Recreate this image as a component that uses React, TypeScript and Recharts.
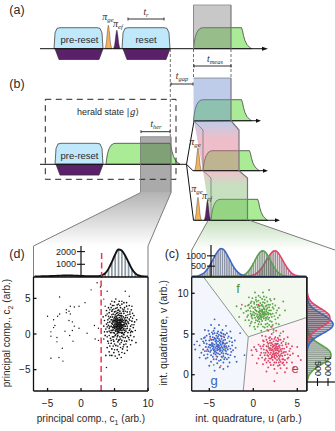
import React from 'react';
import { Area, Bar, ComposedChart, Line, Scatter, XAxis, YAxis } from 'recharts';

type Pair = [number, number];
type Row = [number, number, number];

// ---- panel (d) values
const heraldStray: Pair[] = [
  [-3.2,5.2],[-5,2.5],[-4.1,2],[-3.2,2.8],[-3.5,2.5],[-2.2,3.4],[-1.6,3.9],[-1,3.8],[-.3,3.9],[.6,4.4],[1.5,6.2],[2.4,7.2],
  [-1.8,3.2],[-2.2,3],[-1.6,2.8],[-1.8,1.9],[-1.3,1.7],[-3.9,1.2],[-4.1,.9],[-2.4,.4],[-1,1.1],[-.3,.8],[-1.3,.5],[-1.7,-.2],
  [-4.5,.3],[-4.5,-.3],[-3.6,-.5],[-3.6,-1.1],[-2.8,-2],[-1.2,-1],[.9,.1],[-4.5,-3.4],[-3.3,-3.3],[-2.7,-3.8],[2,1.2],[2.6,.8],
  [2.1,-.7],[2.6,-.9],[3.4,4.9],[3.9,6],[6.6,6],[7.2,5.3],[3.8,-4.7],[2.9,6.6],[3.6,3.9],
];
const heraldMain: Pair[] = [
  [5.7,1.3],[5.4,1.8],[6.1,.9],[5.2,.7],[6.4,1.6],[5.9,2.1],[5,1.4],[5.6,.4],[6.2,.2],[5.3,2.4],[6.6,1.1],[4.8,1.9],[5.8,1.7],[5.5,1],[6,1.4],
  [5.1,1.1],[6.3,2.4],[4.7,.9],[5.6,2.7],[6.8,1.9],[5.9,.6],[5.2,1.9],[6.5,.5],[4.9,.2],[5.4,.1],[6.1,1.9],[5.7,2.3],[5.3,1.4],[5.8,.9],[6.2,1.2],
  [4.6,1.5],[5,2.3],[6.9,.8],[7.1,1.5],[5.5,3],[6,2.9],[5.1,-.2],[5.8,-.4],[6.4,-.1],[4.5,.5],[4.3,1.7],[4.4,2.4],[6.7,2.6],[7.2,2.1],[5,3.1],
  [6.3,3.2],[5.6,3.4],[4.8,2.8],[7,.2],[6.6,-.5],[5.3,-.7],[4.7,-.4],[4.2,.8],[4.1,1.2],[4,2],[7.4,1.1],[7.5,.4],[7.3,2.8],[6.9,3.1],[5.9,3.7],
  [5.2,3.6],[4.6,3.2],[4.2,3],[6.5,3.7],[7.6,1.8],[7.8,.9],[6.1,-.9],[5.5,-1.1],[4.9,-1],[4.4,-.6],[3.9,.3],[3.8,1.4],[3.7,2.6],[7.1,-.5],[6.8,-1],
  [5.8,-1.4],[5.2,-1.6],[4.5,-1.3],[6.4,-1.5],[7.4,-.2],[8,1.7],[7.9,2.6],[7.5,3.4],[6.8,3.9],[6.1,4.2],[5.4,4.1],[4.7,4],[4.1,3.7],[3.8,3.3],[5,4.5],
  [6.4,4.4],[5.7,4.6],[7.2,4],[3.7,.7],[3.6,-.2],[4,-1],[3.9,-1.9],[4.6,-2.1],[5.4,-2.2],[6.2,-2.1],[6.9,-1.8],[7.6,-.9],[8.2,-1.2],[4.9,-2.6],[5.7,-2.9],
  [4.2,-2.5],[3.7,-3],[5.4,-3.4],[6.5,-2.7],[4.6,-3],[5.5,1.6],[5.9,1.1],[5.3,.9],[6.1,.5],[5.7,.8],[5.1,1.7],[6.4,.8],[5.5,2.1],[6,2.4],[4.9,1.2],
  [5.8,1.5],[5.6,1.1],[6.2,1.7],[5.4,1.3],[5.9,1.9],[5.2,.4],[6,.2],[4.7,1.4],[5.5,.6],[6.6,1.9],[5,.8],[6.3,1.3],[5.7,2],[5.3,1.1],[6.1,1.3],
  [5.6,1.6],[5.8,.5],[5.4,2.2],[4.9,1.7],[6.5,1.4],[5.2,1.3],[6,.8],[5.6,.2],[5.9,2.6],[5.1,2.1],[6.2,2.1],[4.8,.6],[6.7,.4],[5.5,-.2],[6.1,-.3],
  [6.8,1.4],[4.5,1.1],[4.4,.2],[4.9,-.4],[5.7,-.8],[6.4,2.9],[5.3,2.9],[4.7,2.4],[7,1.7],[7.3,.7],[6.6,2.3],[5.8,3.2],[5.1,2.7],[4.5,2],[6.9,2.3],
  [5.5,.3],[5.3,1.7],[5.9,1.4],[6.3,.6],[5.7,1.9],[5.4,.7],[6,1.7],[5.6,1.4],[5.2,1],[5.8,1.2],[6.1,1],[5.5,1.2],[5.9,.8],[5.4,1.5],[5.7,1],
];
const heraldOuter: Pair[] = [
  [4.3,3.4],[4.5,3.7],[4.9,3.5],[5.4,3.7],[5.8,4],[6.2,3.5],[6.6,3.2],[7,3.5],[7.3,3.1],[7.7,2.2],[7.4,2.4],[7,2.7],[6.4,3.4],[5.5,3.3],[4.7,3.4],
  [4.1,2.5],[3.9,2.8],[4.2,2.2],[4.6,2.7],[4,1.6],[3.9,1],[4.2,.4],[4.3,1],[4.6,.2],[4.2,-.2],[3.9,-.4],[4.5,-.9],[4.8,-.8],[5,-1.4],[5.4,-.4],
  [5.6,-.9],[5.9,-.7],[6,-1.2],[6.3,-.5],[6.5,-1],[6.9,-.3],[7.2,-.8],[7.4,.2],[7.2,.5],[7.7,.3],[7.6,1.3],[7.3,1.9],[7.9,1.3],[8.1,.5],[7.7,2.9],
  [4.8,-1.7],[5.5,-1.7],[5.9,-1.9],[6.3,-1.8],[6.7,-1.4],[4.3,-1.7],[4.1,-1.3],[3.5,.3],[3.4,1.1],[3.5,1.9],[3.4,-.7],[3.3,2.4],[4.4,4.2],[4.9,4],[5.6,4.2],
  [6.1,4.6],[6.8,4.4],[7.6,3.9],[5.2,4.9],[4.6,4.6],[5,-2.2],[5.6,-2.5],[6.1,-2.6],[5.1,-3.1],[6,-3.3],[4.3,-3],[6.9,-2.3],[7.4,-1.5],[7.9,-.4],[8.3,2],
  [5,.1],[5.2,-.1],[4.7,.5],[5.1,.5],[5.4,.4],[5.6,.7],[5.8,.2],[6.3,0],[6.5,.2],[6.1,.1],[6.7,.7],[6.9,1.1],[6.4,1.1],[6.7,1.5],[6.6,1.7],
  [4.8,1],[5,1.9],[4.6,2],[4.7,1.7],[4.9,2.1],[5.2,2.2],[5.1,2.5],[5.4,2.6],[5.7,2.6],[6,2.1],[6.3,1.9],[6.5,2.1],[6.1,2.6],[5.8,2.9],[5.2,3.2],
  [5.5,1.9],[5.3,2],[5.7,1.6],[5.6,1.9],[5.9,1.6],[6,1.2],[6.2,.9],[5.8,.7],[5.5,.8],[5.3,.6],[5,1],[4.9,.9],[5.2,1.5],[5.4,1.1],[6.4,1.3],
];
const heraldCurve: Pair[] = [
  [-7,50],[-6.5,50],[-6,55],[-5.5,60],[-5,70],[-4.5,80],[-4,90],[-3.5,100],[-3,110],[-2.5,120],[-2,125],[-1.5,120],[-1,110],[-.5,95],[0,85],
  [.5,70],[1,60],[1.5,55],[2,55],[2.5,70],[3,130],[3.5,270],[4,620],[4.5,1150],[5,1750],[5.5,2170],[6,2080],[6.5,1700],[7,1180],[7.5,650],[8,300],[8.5,120],[9,60],[9.5,40],[10,30],
];
const thresholdC1 = 3;

// ---- panel (c) values
const gTrace: Pair[] = [
  [-4,3.7],[-4.3,4.1],[-3.7,3.3],[-4.5,3.4],[-3.5,4],[-4.1,3],[-3.9,4.4],[-4.7,3.9],[-3.3,3.6],[-4.4,2.8],[-3.6,2.7],[-4.8,3],[-3.2,4.3],[-4.2,4.8],[-3.7,4.8],
  [-5,4.2],[-5.1,3.4],[-2.9,3.1],[-3,3.9],[-4.6,4.6],[-3.4,2.3],[-4.1,2.2],[-4.8,2.4],[-5.3,3.8],[-2.7,4.1],[-2.9,2.5],[-3.4,5],[-4,5.3],[-4.7,5.2],[-5.3,4.8],
  [-5.6,3.9],[-5.7,3.1],[-5.2,2.5],[-4.5,1.9],[-3.7,1.8],[-3,1.9],[-2.5,2.8],[-2.4,3.6],[-2.5,4.5],[-3,5.1],[-3.5,5.5],[-4.4,5.7],[-5.1,5.4],[-5.9,4.4],[-6.1,3.6],
  [-5.9,2.7],[-5.4,2],[-4.8,1.6],[-4.1,1.4],[-3.4,1.5],[-2.7,1.5],[-2.1,2.2],[-2,3.3],[-2.1,4.2],[-2.6,5.3],[-3.9,6.1],[-4.8,6.1],[-5.5,5.5],[-6.4,4.1],[-6.6,3.1],
  [-6.1,2.1],[-5,1.1],[-3.8,.9],[-2.9,1],[-1.9,1.6],[-4.4,6.8],[-3.1,6],[-6.7,3.7],[-4.4,.5],[-3.4,.7],[-4.2,3.5],[-3.8,3.9],[-4.4,3.7],[-3.6,3.5],[-4,4.1],
  [-4.1,3.2],[-3.9,3.4],[-4.5,4.3],[-3.4,3.1],[-3.8,2.9],[-4.6,3.2],[-3.2,3],[-4.9,3.6],[-3.3,4.6],[-3.9,4.9],[-4.4,5.1],[-4.9,4.7],[-5.2,3.1],[-4.3,2.5],[-3.6,2.2],
  [-3.1,2.6],[-2.8,3.5],[-5.4,4.2],[-3.7,3.7],[-4.2,3.9],[-4,3.4],[-3.5,3.8],[-4.4,3.1],[-4.6,3.8],[-3.8,4.2],[-3.3,3.4],[-4.1,4.5],[-4.7,3.5],[-3.6,4.4],[-4.3,2.9],
  [-3.9,3.1],[-3.4,4.2],[-4.8,4.3],[-5,3.7],[-3.1,3.5],[-4,2.6],[-3.5,2.9],[-4.5,2.6],[-5.1,2.9],[-2.6,3.2],[-3.7,5.2],[-4.3,4.4],[-4.6,5],[-3.2,2.1],[-5.6,4.5],
  [-4.9,2.8],[-5.2,2.1],[-4.6,2.2],[-4.2,1.9],[-3.9,1.7],[-3.3,1.9],[-2.8,2.1],[-2.6,2.4],[-2.3,3],[-2.4,4],[-2.8,4.7],[-3.2,4.9],[-3.6,5.1],[-4.1,5.1],[-4.5,5.4],
  [-5,5],[-5.5,4.6],[-5.7,4.1],[-5.4,3.4],[-5.5,2.9],[-5.6,2.4],[-4.1,3.7],[-3.9,3.6],[-3.7,4.1],[-4.2,4.2],[-4.4,4.5],[-4.7,4.3],[-4.9,3.3],[-4.5,3],[-4.2,2.7],
  [-3.8,2.5],[-3.4,2.6],[-3.1,2.9],[-3,3.3],[-3.2,3.8],[-3.4,3.9],[-3.6,4.7],[-4,4.7],[-3.8,3.2],[-4.3,3.3],[-4.1,3.5],[-3.7,3],[-3.5,3.3],[-4.6,3.6],[-4.8,3.7],
];
const fTrace: Pair[] = [
  [1,7.7],[.7,8.1],[1.3,7.3],[.5,7.4],[1.5,8],[.9,7],[1.1,8.4],[.3,7.9],[1.7,7.6],[.6,6.8],[1.4,6.7],[.2,7],[1.8,8.3],[.8,8.8],[1.3,8.8],
  [0,8.2],[-.1,7.4],[2.1,7.1],[2,7.9],[.4,8.6],[1.6,6.3],[.9,6.2],[.2,6.4],[-.3,7.8],[2.3,8.1],[2.1,6.5],[1.6,9],[1,9.3],[.3,9.2],[-.3,8.8],
  [-.6,7.9],[-.7,7.1],[-.2,6.5],[.5,5.9],[1.3,5.8],[2,5.9],[2.5,6.8],[2.6,7.6],[2.5,8.5],[2,9.1],[1.5,9.5],[.6,9.7],[-.1,9.4],[-.9,8.4],[-1.1,7.6],
  [-.9,6.7],[-.4,6],[.2,5.6],[.9,5.4],[1.6,5.5],[2.3,5.5],[2.9,6.2],[3,7.3],[2.9,8.2],[2.4,9.3],[1.1,10.1],[.2,10.1],[-.5,9.5],[-1.4,8.1],[-1.6,7.1],
  [-1.9,8.4],[3.6,7.9],[3.4,9],[1.8,10.4],[1.1,7.5],[.8,7.9],[1.2,8.1],[.6,7.7],[1.4,7.5],[1,8],[.9,7.2],[1.1,7.4],[.5,8.3],[1.6,7.1],[1.2,6.9],
  [.4,7.2],[1.8,7],[.1,7.6],[1.7,8.6],[1.1,8.9],[.6,9.1],[.1,8.7],[-.2,7.1],[.7,6.5],[1.4,6.2],[1.9,6.6],[2.2,7.5],[-.4,8.2],[1.3,7.7],[.8,7.5],
  [1,7.4],[1.5,7.8],[.6,7.1],[.4,7.8],[1.2,8.2],[1.7,7.4],[.9,8.5],[.3,7.5],[1.4,8.4],[.7,6.9],[1.1,7.1],[1.6,8.2],[.2,8.3],[0,7.7],[1.9,7.5],
  [1,6.6],[1.5,6.9],[.5,6.6],[-.1,6.9],[2.4,7.2],[1.3,9.2],[.7,8.4],[.4,9],[1.8,6.1],[-.6,8.5],[.8,7.3],[1.2,7.6],[.9,7.8],[.7,7.6],[1.3,8],
  [-.3,6.3],[.1,5.9],[.6,6.2],[1.1,5.9],[1.6,5.9],[2.2,6.1],[2.6,6.3],[2.8,7],[2.7,7.9],[2.2,8.7],[1.9,9.3],[1.2,9.6],[.8,9.5],[.3,9.5],[-.2,9],
  [-.5,8.6],[-.8,7.8],[-.6,7.3],[-.5,6.7],[.1,7.3],[.3,6.7],[.7,7.3],[1.2,7.2],[1.5,7.4],[1.8,7.9],[1.5,8.5],[1,8.6],[.6,8.5],[.2,8],[1.4,7],
  [.9,6.8],[.5,7],[1.7,6.8],[2,7.4],[2.2,8.3],[1.9,8.6],[.1,8.9],[-.2,8.4],[-.3,7.5],[.7,7.8],[1,7.9],[1.1,7.7],[1.3,7.5],[.8,7.1],[1.6,7.6],
];
const eTrace: Pair[] = [
  [2.5,3],[2.2,3.4],[2.8,2.6],[2,2.7],[3,3.3],[2.4,2.3],[2.6,3.7],[1.8,3.2],[3.2,2.9],[2.1,2.1],[2.9,2],[1.7,2.3],[3.3,3.6],[2.3,4.1],[2.8,4.1],
  [1.5,3.5],[1.4,2.7],[3.6,2.4],[3.5,3.2],[1.9,3.9],[3.1,1.6],[2.4,1.5],[1.7,1.7],[1.2,3.1],[3.8,3.4],[3.6,1.8],[3.1,4.3],[2.5,4.6],[1.8,4.5],[1.2,4.1],
  [.9,3.2],[.8,2.4],[1.3,1.8],[2,1.2],[2.8,1.1],[3.5,1.2],[4,2.1],[4.1,2.9],[4,3.8],[3.5,4.4],[3,4.8],[2.1,5],[1.4,4.7],[.6,3.7],[.4,2.9],
  [.6,2],[1.1,1.3],[1.7,.9],[2.4,.7],[3.1,.8],[3.8,.8],[4.4,1.5],[4.5,2.6],[4.4,3.5],[3.9,4.6],[2.6,5.4],[1.7,5.4],[1,4.8],[.1,3.4],[-.1,2.4],
  [.4,1.4],[1.5,.4],[2.7,.2],[3.6,.3],[4.6,.9],[2.1,5.9],[3.4,5.3],[-.2,3],[2.4,-.8],[5.1,2.3],[5,3.4],[5.4,1.8],[2.6,3.2],[2.3,2.9],[2.7,3.4],
  [2.1,3],[2.9,2.8],[2.5,3.3],[2.4,2.5],[2.6,2.7],[2,3.6],[3.1,2.4],[2.7,2.2],[1.9,2.5],[3.3,2.3],[1.6,2.9],[3.2,3.9],[2.6,4.2],[2.1,4.4],[1.6,4],
  [1.3,2.4],[2.2,1.8],[2.9,1.5],[3.4,1.9],[3.7,2.8],[1.1,3.5],[2.8,3],[2.3,2.8],[2.5,2.6],[3,2.9],[2.1,2.3],[1.9,3],[2.7,3.8],[2.4,3.6],[2.9,3.5],
  [2.2,2.5],[2.6,2.4],[3.1,3.1],[1.7,2.7],[1.5,3],[3.4,2.7],[2.5,2],[3,1.8],[2,2],[1.4,2],[3.9,2.5],[2.8,4.5],[2.2,3.7],[1.9,4.2],[3.3,1.4],[1.1,4.2],
  [.9,2.7],[1,2.1],[1.5,1.5],[1.9,1.5],[2.3,1.2],[2.6,1.5],[3,1.2],[3.4,1.5],[3.8,1.5],[3.9,2],[4.2,2.4],[4.2,3.2],[3.7,3.7],[3.4,4.1],[2.9,4.3],
  [2.4,4.4],[1.9,4.6],[1.5,4.3],[1.2,3.7],[.8,3.5],[1.7,3.5],[1.9,3.3],[2.2,3.1],[2.4,3.2],[2.7,3],[2.8,3.2],[3,3.6],[3.3,3.2],[3.5,2.8],[3.2,2.6],
  [2.9,2.4],[2.4,2.1],[2.2,2.2],[1.8,2],[1.6,2.4],[2,3.2],[2.3,3.5],[2.6,3.5],[2.5,3.8],[2.1,3.9],[1.7,3.8],[3,2.2],[3.3,1.9],[2.7,1.8],[2.3,2.6],
];
const strayRed: Pair[] = [[-4.9,4.5],[-3.4,4.7],[-4.2,2.3],[-3.1,3.4],[-5.3,2.9],[-3.7,1.1],[-.2,7.3],[.6,8.6],[-1.3,8.6]];
const strayGreen: Pair[] = [[-3.2,3.2],[-2.9,4.5],[-4.5,1.2],[-3.5,2.1],[2.3,5.2],[3.1,5.1],[1.2,2.7],[3.7,3.9],[1.7,3.4]];
const strayBlue: Pair[] = [[-1.5,5.1],[.3,3.1],[2.8,3.8],[-1,2.4]];

const uBlue: Pair[] = [
  [-7,0],[-6.75,5],[-6.5,15],[-6.25,40],[-6,80],[-5.75,140],[-5.5,230],[-5.25,360],[-5,520],[-4.75,710],[-4.5,910],[-4.25,1100],[-4,1260],[-3.75,1350],
  [-3.5,1330],[-3.25,1220],[-3,1050],[-2.75,850],[-2.5,640],[-2.25,450],[-2,300],[-1.75,190],[-1.5,110],[-1.25,60],[-1,30],[-.75,15],[-.5,5],[0,0],[6,0],
];
const uGreen: Pair[] = [
  [-7,0],[-2,5],[-1.75,10],[-1.5,25],[-1.25,55],[-1,100],[-.75,180],[-.5,300],[-.25,460],[0,650],[.25,850],[.5,1040],[.75,1180],[1,1240],[1.25,1210],[1.5,1090],
  [1.75,910],[2,710],[2.25,510],[2.5,340],[2.75,210],[3,120],[3.25,65],[3.5,30],[3.75,15],[4,5],[4.5,0],[6,0],
];
const uRed: Pair[] = [
  [-7,0],[-1,5],[-.75,10],[-.5,25],[-.25,45],[0,80],[.25,130],[.5,210],[.75,320],[1,460],[1.25,630],[1.5,810],[1.75,980],[2,1130],[2.25,1230],[2.5,1240],[2.75,1160],
  [3,1010],[3.25,830],[3.5,640],[3.75,460],[4,310],[4.25,190],[4.5,110],[4.75,60],[5,30],[5.25,15],[5.5,5],[6,0],
];
const vBlue: Pair[] = [
  [-2,0],[.25,5],[.5,15],[.75,30],[1,55],[1.25,95],[1.5,160],[1.75,250],[2,370],[2.25,510],[2.5,670],[2.75,830],[3,980],[3.25,1100],[3.5,1190],[3.75,1240],[4,1230],
  [4.25,1160],[4.5,1040],[4.75,880],[5,700],[5.25,530],[5.5,380],[5.75,260],[6,170],[6.25,100],[6.5,60],[6.75,30],[7,15],[7.25,5],[12,0],
];
const vRed: Pair[] = [
  [-2,0],[-.5,5],[-.25,10],[0,20],[.25,40],[.5,70],[.75,120],[1,190],[1.25,290],[1.5,420],[1.75,570],[2,730],[2.25,880],[2.5,1000],[2.75,1070],[3,1090],[3.25,1090],
  [3.5,1030],[3.75,920],[4,780],[4.25,620],[4.5,470],[4.75,340],[5,230],[5.25,150],[5.5,90],[5.75,50],[6,25],[6.25,10],[6.5,5],[12,0],
];
const vGreen: Pair[] = [
  [-2,0],[3.75,5],[4,10],[4.25,20],[4.5,40],[4.75,65],[5,100],[5.25,160],[5.5,240],[5.75,340],[6,470],[6.25,620],[6.5,770],[6.75,920],[7,1040],[7.25,1110],[7.5,1140],[7.75,1140],
  [8,1080],[8.25,970],[8.5,830],[8.75,680],[9,530],[9.25,390],[9.5,270],[9.75,180],[10,110],[10.25,65],[10.5,35],[10.75,15],[11,5],[12,0],
];
const gRegion: Row[] = [[-7,-2,12],[-5.66,-2,12],[-1.14,-2,5.47],[-.57,4.65,4.65]];
const fRegion: Row[] = [[-5.66,12,12],[-.57,4.65,12],[6,7,12]];
const eRegion: Row[] = [[-1.14,-2,-2],[-.57,-2,4.65],[6,-2,7]];
const voronoiEdges: Pair[][] = [[[-5.66,12],[-.57,4.65]],[[-1.14,-2],[-.57,4.65]],[[-.57,4.65],[6,7]]];

// ---- pulse sequence, in drawing units of the schematic
const riseShape: Pair[] = [[0,0],[.7,6],[1.6,11],[3,15.5],[5,19],[7.5,20.7],[10,21]];
const fallShape: Pair[] = [[0,21],[1,18],[2,13],[3.5,8],[5.5,4],[8,1.5],[10,0]];
const narrowShape: Pair[] = [[-3.5,0],[-2,.28],[-1,.72],[0,1],[1,.72],[2,.28],[3.5,0]];

const trapezoid = (x0: number, x1: number, base: number, top: number): Row[] => [
  [x0, base, base], [x0 + 1, base, base + (top - base) * .75], [x0 + 3, base, top - (top - base) * .03], [x0 + 6, base, top],
  [x1 - 6, base, top], [x1 - 3, base, top - (top - base) * .03], [x1 - 1, base, base + (top - base) * .75], [x1, base, base],
];
const flat = (x0: number, x1: number, base: number, depth: number): Row[] => [
  [x0, base, base], [x0 + 4, base, base + depth], [x1 - 4, base, base + depth], [x1, base, base],
];
const greenPulse = (x0: number, fallAt: number, base: number, h = 21): Row[] => [
  ...riseShape.map(([t, a]): Row => [x0 + t, base, base - a * h / 21]),
  ...fallShape.map(([t, a]): Row => [fallAt + t, base, base - a * h / 21]),
];
const narrow = (c: number, base: number, h: number): Row[] => narrowShape.map(([t, a]): Row => [c + t, base, base - a * h]);

const S = '#2b2b2b';
const BLUE = '#bfe8fa', PURPLE = '#5a2069', ORANGE = '#f5b25e', GREEN = '#a9ec95';

type Shape = { rows: Row[]; fill: string; stroke?: string; op?: number; curve?: 'linear' | 'monotone'; sw?: number };
type Seg = { pts: Pair[]; stroke?: string; w?: number; dash?: string };

const shapes: Shape[] = [
  // funnels to the data panels
  { rows: [[33.5,246,246],[140.5,192.7,246],[148,192.7,246],[171,192.7,192.7]], fill: 'url(#fadeGrey)' },
  { rows: [[191.7,250,250],[208,220.5,250],[250,220.5,250],[335,250,250]], fill: 'url(#fadeGreen)' },
  // (a)
  { rows: trapezoid(54, 103, 48.7, 27.7), fill: BLUE, stroke: S },
  { rows: flat(55, 103, 48.7, 10.8), fill: PURPLE, stroke: S },
  { rows: narrow(108.4, 48.7, 23.5), fill: ORANGE, curve: 'monotone', stroke: S, sw: .4 },
  { rows: narrow(116.8, 48.7, 18.7), fill: PURPLE, curve: 'monotone', stroke: S, sw: .4 },
  { rows: trapezoid(122, 170, 48.7, 27.7), fill: BLUE, stroke: S },
  { rows: flat(123, 170, 48.7, 10.8), fill: PURPLE, stroke: S },
  { rows: greenPulse(193.5, 241.5, 48.7), fill: GREEN, stroke: S },
  { rows: [[193.5,5,48.7],[231,5,48.7]], fill: '#808080', op: .43 },
  // (b)
  { rows: trapezoid(55, 103, 164.3, 143.3), fill: BLUE, stroke: S },
  { rows: flat(56, 103, 164.3, 10.8), fill: PURPLE, stroke: S },
  { rows: greenPulse(106, 170, 164.3), fill: GREEN, stroke: S },
  { rows: greenPulse(193.5, 241.5, 120.7), fill: GREEN, stroke: S },
  { rows: narrow(198, 170.7, 23), fill: ORANGE, curve: 'monotone', stroke: S, sw: .4 },
  { rows: greenPulse(203, 249.5, 170.7, 20), fill: GREEN, stroke: S },
  { rows: narrow(198, 220.3, 23), fill: ORANGE, curve: 'monotone', stroke: S, sw: .4 },
  { rows: narrow(207.5, 220.3, 20), fill: PURPLE, curve: 'monotone', stroke: S, sw: .4 },
  { rows: greenPulse(211, 257.7, 220.3), fill: GREEN, stroke: S },
  { rows: [[140.5,136.7,192.7],[171,136.7,192.7]], fill: '#555555', op: .5 },
  { rows: [[193.5,78,120.7],[231,78,120.7]], fill: '#6f8fd0', op: .45 },
  { rows: [[194,121,121],[203,121,170.7],[231,121,170.7],[239,130,170.7]], fill: 'url(#pinkBand)', op: .45 },
  { rows: [[203,171,171],[211,171,220.3],[239,171,220.3],[247.5,178,220.3]], fill: 'url(#greenBand)', op: .42 },
  // arrow heads
  { rows: [[262,46.7,50.7],[268,48.7,48.7]], fill: '#111' },
  { rows: [[256,118.7,122.7],[261,120.7,120.7]], fill: '#111' },
  { rows: [[263,168.7,172.7],[268,170.7,170.7]], fill: '#111' },
  { rows: [[275,218.3,222.3],[280,220.3,220.3]], fill: '#111' },
];

const segments: Seg[] = [
  // baselines and branches
  { pts: [[40,48.7],[264,48.7]], stroke: '#111', w: 1 },
  { pts: [[40,164.3],[186.5,164.3]], stroke: '#111', w: 1 },
  { pts: [[186.5,164.3],[194,121],[257,120.7]], stroke: '#111', w: 1 },
  { pts: [[186.5,164.3],[193,170.7],[264,170.7]], stroke: '#111', w: 1 },
  { pts: [[186.5,164.3],[193.5,220.3],[276,220.3]], stroke: '#111', w: 1 },
  // herald box
  { pts: [[45.3,99.3],[176,99.3],[176,179.3],[45.3,179.3],[45.3,99.3]], stroke: '#222', w: 1, dash: '6 4.5' },
  // guide lines
  { pts: [[170.3,49],[170.3,136.7]], stroke: '#333', w: .7, dash: '3 2' },
  { pts: [[193.5,49],[193.5,78]], stroke: '#333', w: .7, dash: '3 2' },
  { pts: [[231,49],[231,78]], stroke: '#333', w: .7, dash: '3 2' },
  // durations
  { pts: [[128,19],[164,19]], stroke: '#333', w: 1 }, { pts: [[128,17.5],[128,20.5]], stroke: '#333', w: 1 }, { pts: [[164,17.5],[164,20.5]], stroke: '#333', w: 1 },
  { pts: [[194,66],[231,66]], stroke: '#333', w: 1 }, { pts: [[194,64.5],[194,67.5]], stroke: '#333', w: 1 }, { pts: [[231,64.5],[231,67.5]], stroke: '#333', w: 1 },
  { pts: [[171,84],[193,84]], stroke: '#333', w: 1 }, { pts: [[171,82.5],[171,85.5]], stroke: '#333', w: 1 }, { pts: [[193,82.5],[193,85.5]], stroke: '#333', w: 1 },
  { pts: [[141,131.7],[170,131.7]], stroke: '#333', w: 1 }, { pts: [[141,130.2],[141,133.2]], stroke: '#333', w: 1 }, { pts: [[170,130.2],[170,133.2]], stroke: '#333', w: 1 },
  // band edges
  { pts: [[193.5,5],[231,5]], stroke: '#999', w: 1 },
  { pts: [[193.5,5],[193.5,48.7]], stroke: '#8a8a8a', w: 1 },
  { pts: [[231,5],[231,48.7]], stroke: '#777', w: 1.2 },
  { pts: [[193.5,78],[231,78]], stroke: '#777', w: .7 },
  { pts: [[231,78],[231,120.7],[239,130],[239,170.7],[247.5,178],[247.5,220.3]], stroke: '#777', w: 1.2 },
  { pts: [[194,121],[203,130],[203,170.7],[211,178],[211,220.3]], stroke: '#777', w: .8 },
  { pts: [[140.5,136.7],[171,136.7]], stroke: '#888', w: .8 },
  { pts: [[140.5,136.7],[140.5,192.7]], stroke: '#777', w: .8 },
  { pts: [[171,136.7],[171,192.7]], stroke: '#777', w: 1.2 },
  // funnel outlines
  { pts: [[33.5,277],[33.5,246],[140.5,192.7]], stroke: '#7d7d7d', w: 1 },
  { pts: [[171,192.7],[148,246],[148,277]], stroke: '#7d7d7d', w: 1 },
  { pts: [[191.7,277],[191.7,250],[208,220.5]], stroke: '#7d7d7d', w: 1 },
  { pts: [[250,220.5],[335,250]], stroke: '#7d7d7d', w: 1 },
];

const toRows = (rows: Row[]) => rows.map(([x, lo, hi]) => ({ x, y: [lo, hi] }));
const toLine = (pts: Pair[]) => pts.map(([x, y]) => ({ x, y }));
const minus = (v: number) => String(v).replace('-', '\u2212');

const Schematic = () => (
  <ComposedChart width={335} height={431} margin={{ top: 0, right: 0, bottom: 0, left: 0 }} style={{ position: 'absolute', left: 0, top: 0 }}>
    <defs>
      <linearGradient id="fadeGrey" x1="0" y1="0" x2="0" y2="1"><stop offset="0" stopColor="#b4b4b4" /><stop offset="1" stopColor="#ffffff" /></linearGradient>
      <linearGradient id="fadeGreen" x1="0" y1="0" x2="0" y2="1"><stop offset="0" stopColor="#c6e0bf" /><stop offset="1" stopColor="#ffffff" /></linearGradient>
      <linearGradient id="pinkBand" x1="0" y1="0" x2="0" y2="1"><stop offset="0" stopColor="#6f8fd0" /><stop offset=".35" stopColor="#d87088" /></linearGradient>
      <linearGradient id="greenBand" x1="0" y1="0" x2="0" y2="1"><stop offset="0" stopColor="#d87088" /><stop offset=".3" stopColor="#78b468" /></linearGradient>
    </defs>
    <XAxis hide type="number" dataKey="x" domain={[0, 335]} />
    <YAxis hide reversed type="number" domain={[0, 431]} />
    {shapes.map((s, i) => (
      <Area key={'s' + i} data={toRows(s.rows)} dataKey="y" type={s.curve ?? 'linear'} fill={s.fill} fillOpacity={s.op ?? 1}
        stroke={s.stroke ?? 'none'} strokeWidth={s.sw ?? .7} dot={false} activeDot={false} isAnimationActive={false} />
    ))}
    {segments.map((s, i) => (
      <Line key={'l' + i} data={toLine(s.pts)} dataKey="y" type="linear" stroke={s.stroke} strokeWidth={s.w} strokeDasharray={s.dash}
        dot={false} activeDot={false} isAnimationActive={false} />
    ))}
  </ComposedChart>
);

const axisTick = { fontSize: 10, fill: '#222', fontFamily: 'Liberation Sans' };
const frameAxisProps = { stroke: '#111', strokeWidth: 1.3, tick: axisTick, tickSize: -3, tickFormatter: minus };

type ScatterLayer = { pts: Pair[]; fill: string; size: number };

const Panel = ({ left, width, xDomain, yDomain, xTicks, yTicks, leftGutter, rightGutter, children }: any) => (
  <ComposedChart width={width} height={144} margin={{ top: 0, right: 0, bottom: 0, left: 0 }} style={{ position: 'absolute', left, top: 275 }}>
    <XAxis xAxisId="b" type="number" dataKey="x" domain={xDomain} ticks={xTicks} height={28} tickMargin={12} {...frameAxisProps} />
    <XAxis xAxisId="t" orientation="top" type="number" dataKey="x" domain={xDomain} ticks={xTicks} height={2} {...frameAxisProps} tickFormatter={() => ''} />
    <YAxis yAxisId="l" type="number" dataKey="y" domain={yDomain} ticks={yTicks} width={leftGutter} tickMargin={6} {...frameAxisProps} />
    <YAxis yAxisId="r" orientation="right" type="number" dataKey="y" domain={yDomain} ticks={yTicks} width={rightGutter} {...frameAxisProps} tickFormatter={() => ''} />
    {children}
  </ComposedChart>
);

const cloud = (l: ScatterLayer, key: string) => (
  <Scatter key={key} xAxisId="b" yAxisId="l" data={toLine(l.pts)} fill={l.fill} shape={(p: any) => <circle cx={p.cx} cy={p.cy} r={l.size} fill={l.fill} />} isAnimationActive={false} />
);

const PanelD = () => (
  <Panel left={0} width={170} xDomain={[-7.1, 10]} yDomain={[-8, 8]} xTicks={[-5, 0, 5, 10]} yTicks={[-5, 0, 5]} leftGutter={33.5} rightGutter={22}>
    {cloud({ pts: heraldStray, fill: '#111', size: .7 }, 'stray')}
    {cloud({ pts: heraldOuter, fill: '#111', size: .8 }, 'outer')}
    {cloud({ pts: heraldMain, fill: '#111', size: .85 }, 'main')}
    <Line xAxisId="b" yAxisId="l" data={toLine([[thresholdC1, -8], [thresholdC1, 8]])} dataKey="y" stroke="#ee3350" strokeWidth={1.5} strokeDasharray="6 3.5" dot={false} isAnimationActive={false} />
  </Panel>
);

const region = (rows: Row[], fill: string, key: string) => (
  <Area key={key} xAxisId="b" yAxisId="l" data={toRows(rows)} dataKey="y" type="linear" fill={fill} fillOpacity={1} stroke="none" dot={false} activeDot={false} isAnimationActive={false} />
);

const PanelC = () => (
  <Panel left={158} width={170} xDomain={[-7, 6.07]} yDomain={[-2, 12]} xTicks={[-5, 0, 5]} yTicks={[0, 5, 10]} leftGutter={33.7} rightGutter={21.3}>
    {region(gRegion, '#f3f6fc', 'rg')}
    {region(fRegion, '#f3f9ef', 'rf')}
    {region(eRegion, '#fdf2f5', 're')}
    {voronoiEdges.map((e, i) => (
      <Line key={'v' + i} xAxisId="b" yAxisId="l" data={toLine(e)} dataKey="y" stroke="#8a9694" strokeWidth={1} dot={false} isAnimationActive={false} />
    ))}
    {cloud({ pts: fTrace, fill: '#5ea34a', size: .95 }, 'cf')}
    {cloud({ pts: eTrace, fill: '#dc4468', size: .95 }, 'ce')}
    {cloud({ pts: gTrace, fill: '#3f63c4', size: .95 }, 'cg')}
    {cloud({ pts: strayRed, fill: '#dc4468', size: .85 }, 'sr')}
    {cloud({ pts: strayGreen, fill: '#5ea34a', size: .85 }, 'sg')}
    {cloud({ pts: strayBlue, fill: '#3f63c4', size: .85 }, 'sb')}
  </Panel>
);

type HistProps = { data: Pair[]; line: string; bar: string; left: number; top: number; width: number; height: number; domain: number[]; bDomain: number[]; vertical?: boolean; lw?: number; barW?: number; minBar?: number };

const Hist = ({ data, line, bar, left, top, width, height, domain, bDomain, vertical, lw = 1.6, barW = 1.6, minBar = 10 }: HistProps) => {
  const rows = data.map(([b, n]) => ({ b, n }));
  const bars = rows.filter((r) => r.n >= minBar);
  return (
    <ComposedChart width={width} height={height} data={rows} layout={vertical ? 'vertical' : 'horizontal'} margin={{ top: 0, right: 0, bottom: 0, left: 0 }}
      style={{ position: 'absolute', left, top }}>
      {vertical ? <XAxis hide type="number" domain={domain} /> : <XAxis hide type="number" dataKey="b" domain={bDomain} />}
      {vertical ? <YAxis hide type="number" dataKey="b" domain={bDomain} /> : <YAxis hide type="number" domain={domain} />}
      <Bar data={bars} dataKey="n" fill={bar} fillOpacity={.72} barSize={barW} isAnimationActive={false} />
      <Line dataKey="n" type="monotone" stroke={line} strokeWidth={lw} dot={false} activeDot={false} isAnimationActive={false} />
    </ComposedChart>
  );
};

// axis with ticks crossing it, as in the side histograms
const CrossY = ({ axisX, top, height, domain, ticks }: { axisX: number; top: number; height: number; domain: number[]; ticks: number[] }) => (
  <ComposedChart width={axisX + 6} height={height} margin={{ top: 0, right: 0, bottom: 0, left: 0 }} style={{ position: 'absolute', left: 0, top }}>
    <XAxis hide type="number" dataKey="x" domain={[0, 1]} />
    <YAxis type="number" domain={domain} ticks={ticks} width={axisX} stroke="#111" strokeWidth={1.2} tickLine={false} tickSize={0} tickMargin={0} interval={0}
      tick={(p: any) => (
        <g>
          <line x1={p.x - 4} x2={p.x + 4} y1={p.y} y2={p.y} stroke="#111" strokeWidth={1.1} />
          <text x={p.x - 5} y={p.y + 3.2} textAnchor="end" fontSize={9} fontFamily="Liberation Sans" fill="#222">{p.payload.value}</text>
        </g>
      )} />
    <Line data={ticks.map((t) => ({ x: .5, y: t }))} dataKey="y" stroke="none" dot={false} activeDot={false} isAnimationActive={false} />
  </ComposedChart>
);

const CrossX = ({ left, axisY, width, domain, ticks }: { left: number; axisY: number; width: number; domain: number[]; ticks: number[] }) => (
  <ComposedChart width={width} height={50} margin={{ top: 0, right: 0, bottom: 0, left: 0 }} style={{ position: 'absolute', left, top: axisY - 44 }}>
    <YAxis hide type="number" domain={[0, 1]} />
    <XAxis type="number" dataKey="x" domain={domain} ticks={ticks} height={6} stroke="#111" strokeWidth={1.2} tickLine={false} tickSize={0} tickMargin={0} interval={0}
      tick={(p: any) => (
        <g>
          <line x1={p.x} x2={p.x} y1={p.y - 4} y2={p.y + 4} stroke="#111" strokeWidth={1.1} />
          <text x={0} y={0} textAnchor="end" fontSize={9} fontFamily="Liberation Sans" fill="#222" transform={`translate(${p.x - 3} ${p.y - 6}) rotate(90)`}>{p.payload.value}</text>
        </g>
      )} />
    <Line data={ticks.map((t) => ({ x: t, y: .5 }))} dataKey="y" stroke="none" dot={false} activeDot={false} isAnimationActive={false} />
  </ComposedChart>
);

const sans: React.CSSProperties = { position: 'absolute', fontFamily: 'Liberation Sans', color: '#2a2a2a', whiteSpace: 'nowrap', lineHeight: 1 };

const Txt = ({ x, y, size = 9, rotate, color, children }: { x: number; y: number; size?: number; rotate?: number; color?: string; children: React.ReactNode }) => (
  <div style={{ ...sans, left: x, top: y, fontSize: size, color: color ?? sans.color, transform: `translate(-50%,-50%)${rotate ? ` rotate(${rotate}deg)` : ''}` }}>{children}</div>
);

const Sym = ({ base, sub }: { base: string; sub: string }) => (
  <span style={{ fontFamily: 'Liberation Serif', fontStyle: 'italic' }}>{base}<span style={{ fontSize: '0.68em', verticalAlign: '-0.25em' }}>{sub}</span></span>
);

export default function App() {
  return (
    <div style={{ position: 'absolute', left: 0, top: 0, width: 335, height: 431, background: '#fff', overflow: 'hidden' }}>
      <Schematic />
      <Hist data={heraldCurve} line="#111" bar="#5f7482" left={33.5} top={245.7} width={114.5} height={31} domain={[0, 2440]} bDomain={[-7.1, 10]} lw={1.9} barW={1.7} minBar={300} />
      <CrossY axisX={81} top={245.7} height={31} domain={[0, 2440]} ticks={[1000, 2000]} />
      <ComposedChart width={114.5} height={33} margin={{ top: 0, right: 0, bottom: 0, left: 0 }} style={{ position: 'absolute', left: 33.5, top: 245 }}>
        <XAxis hide type="number" dataKey="x" domain={[-7.1, 10]} />
        <YAxis hide type="number" domain={[0, 1]} />
        <Line data={toLine([[thresholdC1, 0], [thresholdC1, .82]])} dataKey="y" stroke="#ee3350" strokeWidth={1.5} strokeDasharray="6 3.5" dot={false} isAnimationActive={false} />
      </ComposedChart>
      <Hist data={uRed} line="#e0456a" bar="#7c6470" left={191.7} top={245} width={115} height={31.5} domain={[0, 1525]} bDomain={[-7, 6.07]} />
      <Hist data={uGreen} line="#5ca04a" bar="#66786a" left={191.7} top={245} width={115} height={31.5} domain={[0, 1525]} bDomain={[-7, 6.07]} />
      <Hist data={uBlue} line="#3f66c5" bar="#5f6c86" left={191.7} top={245} width={115} height={31.5} domain={[0, 1525]} bDomain={[-7, 6.07]} />
      <CrossY axisX={211} top={245} height={31.5} domain={[0, 1525]} ticks={[500, 1000]} />
      <Hist vertical data={vGreen} line="#5ca04a" bar="#66786a" left={307} top={277} width={28} height={114} domain={[0, 1333]} bDomain={[-2, 12]} />
      <Hist vertical data={vBlue} line="#3f66c5" bar="#4e5670" left={307} top={277} width={28} height={114} domain={[0, 1333]} bDomain={[-2, 12]} />
      <Hist vertical data={vRed} line="#e0456a" bar="#7c5c6a" left={307} top={277} width={28} height={114} domain={[0, 1333]} bDomain={[-2, 12]} />
      <CrossX left={307} axisY={382} width={28} domain={[0, 1333]} ticks={[500, 1000]} />
      <PanelD />
      <PanelC />

      <Txt x={17} y={10} size={12.5}>(a)</Txt>
      <Txt x={17} y={84} size={12.5}>(b)</Txt>
      <Txt x={17} y={254} size={12.5}>(d)</Txt>
      <Txt x={172} y={254} size={12.5}>(c)</Txt>
      <Txt x={79.5} y={40} size={9.5}>pre-reset</Txt>
      <Txt x={146} y={40} size={9.5}>reset</Txt>
      <Txt x={79.5} y={156} size={9.5}>pre-reset</Txt>
      <Txt x={108} y={112} size={9}>herald state <span style={{ fontFamily: 'DejaVu Serif' }}>|<i>g</i>⟩</span></Txt>
      <Txt x={108} y={18} size={10}><Sym base="π" sub="ge" /></Txt>
      <Txt x={118} y={25} size={10}><Sym base="π" sub="ef" /></Txt>
      <Txt x={146} y={13} size={9.5}><Sym base="t" sub="r" /></Txt>
      <Txt x={215} y={60} size={9.5}><Sym base="t" sub="meas" /></Txt>
      <Txt x={182} y={77} size={9.5}><Sym base="t" sub="gap" /></Txt>
      <Txt x={156} y={125} size={9.5}><Sym base="t" sub="her" /></Txt>
      <Txt x={195} y={143} size={10}><Sym base="π" sub="ge" /></Txt>
      <Txt x={197} y={190} size={10}><Sym base="π" sub="ge" /></Txt>
      <Txt x={207} y={197} size={10}><Sym base="π" sub="ef" /></Txt>
      <Txt x={91} y={419} size={10}>principal comp., c<sub style={{ fontSize: 7, lineHeight: 0 }}>1</sub> (arb.)</Txt>
      <Txt x={7} y={333} size={10} rotate={-90}>principal comp., c<sub style={{ fontSize: 7, lineHeight: 0 }}>2</sub> (arb.)</Txt>
      <Txt x={248.5} y={419} size={10.4}>int. quadrature, u (arb.)</Txt>
      <Txt x={163.5} y={333} size={10.4} rotate={-90}>int. quadrature, v (arb.)</Txt>
      <Txt x={238} y={288} size={13} color="#4f8f3e">f</Txt>
      <Txt x={214} y={380} size={13} color="#3a62b5">g</Txt>
      <Txt x={295} y={368} size={13} color="#a8405c">e</Txt>
    </div>
  );
}
